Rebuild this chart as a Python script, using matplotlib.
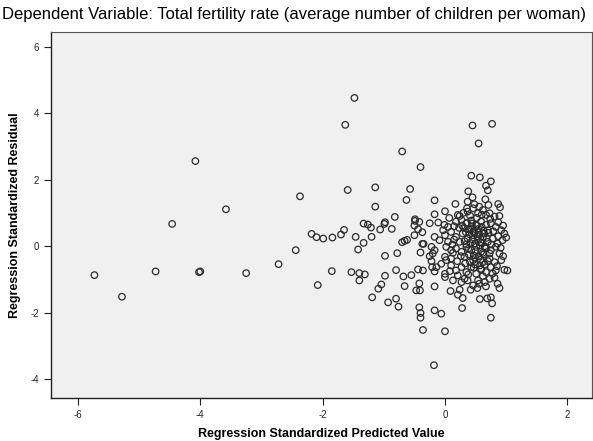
import numpy as np
import matplotlib
matplotlib.use("Agg")
import matplotlib.pyplot as plt

plt.rcParams['font.family'] = ['Liberation Sans', 'DejaVu Sans']
plt.rcParams['axes.unicode_minus'] = False

# standardized predicted value / standardized residual
tail_pred = [-5.73, -5.28, -4.73, -4.46, -4.08, -4.02, -4.00, -3.58, -3.25, -2.72, -2.44, -2.37,
             -2.18, -2.10, -1.99, -1.84, -1.70, -1.65, -1.85, -2.08,
             -1.48, -1.63, -1.59, -1.14, -1.14, -1.46, -1.33, -1.42, -1.33, -1.26, -1.21, -1.20,
             -1.06, -0.99, -0.98, -0.87, -0.82, -0.98, -0.78, -1.53, -1.40, -1.40, -1.31, -0.98,
             -0.80, -1.04, -1.09, -1.19, -0.93, -0.80, -0.76]
tail_resid = [-0.87, -1.52, -0.76, 0.67, 2.56, -0.78, -0.76, 1.11, -0.81, -0.54, -0.12, 1.50,
              0.37, 0.27, 0.23, 0.26, 0.35, 0.49, -0.75, -1.17,
              4.46, 3.65, 1.69, 1.77, 1.19, 0.28, 0.10, -0.10, 0.68, 0.65, 0.56, 0.28,
              0.50, 0.67, 0.72, 0.52, 0.88, -0.29, -0.21, -0.78, -0.81, -1.03, -0.85, -0.89,
              -0.72, -1.15, -1.28, -1.54, -1.69, -1.58, -1.82]

mid_pred = [-0.70, -0.40, -0.57, -0.63, -0.49, -0.70, -0.62, -0.66, -0.50, -0.49, -0.42, -0.50,
            -0.44, -0.37, -0.37, -0.35, -0.40, -0.68, -0.55, -0.66, -0.44, -0.36, -0.42, -0.47,
            -0.41, -0.42, -0.40, -0.40, -0.36, -0.17, -0.17, -0.17, -0.17, -0.06, -0.18, 0.00,
            -0.25, -0.11, -0.17, -0.09, -0.22, -0.17, -0.20, -0.21, -0.17, -0.14, -0.06, -0.25,
            -0.22]
mid_resid = [2.85, 2.38, 1.72, 1.39, 0.81, 0.12, 0.19, 0.16, 0.33, 0.76, 0.73, 0.62,
             0.51, 0.42, 0.07, 0.07, -0.19, -0.91, -0.87, -1.20, -0.70, -0.73, -1.12, -1.33,
             -1.33, -1.84, -2.01, -2.15, -2.52, 1.38, 0.96, -1.21, -1.93, -2.03, -3.58, -2.56,
             0.69, 0.71, 0.28, 0.18, -0.02, -0.12, -0.22, -0.63, -0.76, -0.63, -0.53, -0.30,
             -0.45]

core_pred = [0.45, 0.77, 0.55, 0.43, 0.57, 0.75, 0.67, 0.38, 0.70, 0.17, 0.45, 0.37, 0.66, 0.48,
             0.87, 0.90, 0.00, 0.36, 0.56, 0.71, 0.73, 0.21, 0.89, 0.24, 0.46, 0.54, 0.62, 0.67,
             0.81, 0.37,
             -0.01, 0.05, -0.03, 0.10, 0.18, 0.27, 0.35, 0.43, 0.51, 0.59, 0.67, 0.75, 0.83, 0.92,
             0.97, 1.00,
             0.00, 0.05, 0.02, 0.10, 0.18, 0.24, 0.29, 0.37, 0.46, 0.54, 0.62, 0.70, 0.78, 0.86, 0.94,
             0.18, 0.27, 0.35, 0.43, 0.51, 0.59, 0.67, 0.75, 0.83, 0.89,
             0.00, 0.10, 0.32, 0.46, 0.62, 0.73, 0.81, 0.92,
             0.02, 0.10, 0.18, 0.27, 0.35, 0.43, 0.51, 0.59, 0.67, 0.75, 0.83, 1.02, 0.97,
             0.00, 0.21, 0.32, 0.54, 0.65, 0.81, 0.00, 0.13, 0.27, 0.37, 0.46, 0.56, 0.67, 0.73,
             0.42, 0.53, 0.89, 0.86, 0.24, 0.21, 0.29, 0.09, 0.57, 0.69, 0.75, 0.77, 0.28, 0.75,
             0.31, 0.39, 0.47, 0.55, 0.63, 0.71, 0.35, 0.41, 0.49, 0.57, 0.65, 0.73, 0.39, 0.47,
             0.55, 0.63, 0.33, 0.41, 0.49, 0.57, 0.65, 0.23, 0.15, 0.13, 0.79, 0.87, 0.91, 0.95,
             0.85, 0.07, 0.30, 0.52, 0.60, 0.41, 0.74, 0.87, 0.95, 0.08, 0.38, 0.62, 0.78, 0.20,
             0.28, 0.44, 0.53, 0.60, 0.68, 0.76, 0.34, 0.50, 0.58, 0.70, 0.26, 0.15, 0.12,
             0.36, 0.44, 0.52, 0.60, 0.40, 0.48, 0.56, 0.64, 0.32, 0.45, 0.58, 0.66, 0.38, 0.50,
             0.62, 0.43, 0.55, 0.70, 0.47, 0.59]
core_resid = [3.63, 3.68, 3.09, 2.12, 2.07, 1.95, 1.82, 1.65, 1.68, 1.27, 1.47, 1.34, 1.41, 1.26,
              1.27, 1.17, 1.05, 1.14, 1.19, 1.24, 0.99, 0.94, 0.91, 0.91, 1.14, 0.99, 1.09, 0.94,
              0.89, 1.04,
              0.64, 0.58, 0.48, 0.43, 0.74, 0.79, 0.69, 0.77, 0.64, 0.74, 0.64, 0.69, 0.58, 0.48,
              0.38, 0.26,
              0.33, 0.13, -0.02, -0.12, 0.28, 0.13, 0.38, 0.23, 0.33, 0.18, 0.28, 0.13, 0.23, 0.08, 0.18,
              -0.07, -0.17, -0.02, -0.12, -0.02, -0.17, -0.07, -0.12, -0.02, -0.22,
              -0.32, -0.37, -0.32, -0.42, -0.48, -0.37, -0.48, -0.42,
              -0.42, -0.58, -0.73, -0.63, -0.78, -0.63, -0.83, -0.68, -0.78, -0.63, -0.73, -0.73, -0.71,
              -0.83, -0.88, -0.98, -1.03, -1.08, -0.95, -0.93, -1.03, -1.08, -1.03, -1.18, -1.13, -1.21, -0.98,
              -1.31, -1.26, -1.26, -1.13, -1.31, -1.46, -1.56, -1.35, -1.59, -1.57, -1.54, -1.72, -1.86, -2.15,
              0.55, 0.50, 0.45, 0.52, 0.47, 0.40, 0.05, 0.10, 0.08, 0.03, 0.00, -0.22, -0.25, -0.28,
              -0.30, -0.25, -0.52, -0.48, -0.55, -0.58, -0.55, 0.55, 0.20, -0.20, 0.45, 0.30, -0.05, -0.30,
              -0.60, 0.85, 1.00, 0.85, 0.95, 0.92, 0.82, 0.72, 0.62, -0.75, -0.85, -0.90, -0.82, -0.45,
              0.62, 0.60, 0.30, 0.10, 0.25, 0.05, 0.42, -0.15, -0.40, -0.45, -0.30, 0.60, 0.05,
              0.70, 0.68, 0.62, 0.58, 0.36, 0.40, 0.35, 0.38, 0.15, 0.20, 0.12, -0.05, -0.08, -0.35,
              -0.20, 0.52, 0.42, 0.48, -0.65, -0.70]

pred = tail_pred + mid_pred + core_pred
resid = tail_resid + mid_resid + core_resid

fig = plt.figure(figsize=(5.93, 4.41), dpi=100)
ax = fig.add_axes([0.086, 0.098, 0.912, 0.830])
ax.set_facecolor('#f0f0f0')

ax.scatter(pred, resid, s=22, facecolors='none', edgecolors='#2b2b2b', linewidths=0.9)

ax.set_xlim(-6.44, 2.4)
ax.set_ylim(-4.56, 6.45)
ax.set_xticks([-6, -4, -2, 0, 2])
ax.set_yticks([-4, -2, 0, 2, 4, 6])
ax.tick_params(direction='out', length=5, width=0.8, labelsize=7, colors='#222222')

for side in ['left', 'bottom']:
    ax.spines[side].set_color('#222222')
    ax.spines[side].set_linewidth(1.0)
for side in ['top', 'right']:
    ax.spines[side].set_color('#555555')
    ax.spines[side].set_linewidth(0.8)

ax.set_xlabel('Regression Standardized Predicted Value', fontsize=9, fontweight='bold', labelpad=6)
ax.set_ylabel('Regression Standardized Residual', fontsize=9, fontweight='bold', labelpad=7)
fig.text(0.003, 0.967, 'Dependent Variable: Total fertility rate (average number of children per woman)',
         fontsize=12.0, ha='left', va='center')

fig.savefig('out.png', dpi=100)
